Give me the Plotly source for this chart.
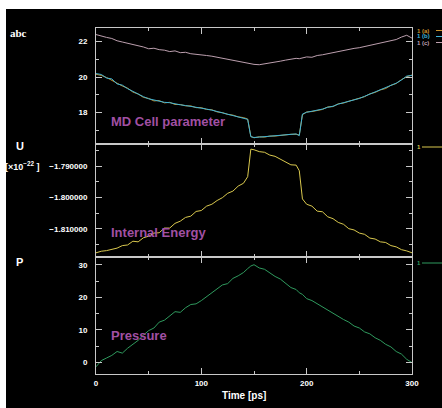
import plotly.graph_objects as go
from plotly.subplots import make_subplots

# ---------------- data ----------------
time_ps = [0, 5, 10, 15, 20, 25, 30, 35, 40, 45,
           50, 55, 60, 65, 70, 75, 80, 85, 90, 95,
           100, 105, 110, 115, 120, 125, 130, 135, 140, 144,
           147, 150, 155, 160, 165, 170, 175, 180, 185, 190,
           193, 196, 200, 205, 210, 215, 220, 225, 230, 235,
           240, 245, 250, 255, 260, 265, 270, 275, 280, 285,
           290, 295, 300]

cell_a = [20.16, 20.10, 19.98, 19.84, 19.66, 19.50, 19.38, 19.16, 19.05, 18.86,
          18.80, 18.66, 18.68, 18.55, 18.58, 18.46, 18.46, 18.38, 18.38, 18.28,
          18.28, 18.18, 18.16, 18.04, 18.00, 17.90, 17.86, 17.76, 17.72, 17.64,
          16.66, 16.58, 16.64, 16.62, 16.68, 16.68, 16.72, 16.72, 16.78, 16.78,
          16.74, 17.88, 18.04, 18.06, 18.14, 18.18, 18.32, 18.34, 18.50, 18.54,
          18.64, 18.72, 18.82, 18.90, 19.06, 19.14, 19.28, 19.36, 19.54, 19.64,
          19.86, 20.02, 20.12]

cell_b = [20.20, 20.15, 19.95, 19.90, 19.62, 19.55, 19.35, 19.20, 19.02, 18.90,
          18.78, 18.70, 18.66, 18.58, 18.56, 18.48, 18.44, 18.40, 18.36, 18.30,
          18.26, 18.20, 18.14, 18.06, 17.98, 17.92, 17.84, 17.78, 17.70, 17.62,
          16.64, 16.60, 16.62, 16.64, 16.66, 16.70, 16.70, 16.74, 16.76, 16.80,
          16.70, 17.92, 18.02, 18.08, 18.12, 18.20, 18.30, 18.36, 18.48, 18.56,
          18.62, 18.74, 18.80, 18.92, 19.04, 19.16, 19.26, 19.38, 19.52, 19.66,
          19.84, 20.06, 20.10]

cell_c = [22.40, 22.30, 22.24, 22.18, 22.05, 21.98, 21.92, 21.85, 21.76, 21.70,
          21.60, 21.63, 21.55, 21.52, 21.44, 21.48, 21.38, 21.40, 21.32, 21.30,
          21.28, 21.22, 21.18, 21.12, 21.08, 21.02, 20.95, 20.90, 20.85, 20.78,
          20.76, 20.72, 20.70, 20.74, 20.80, 20.84, 20.90, 20.96, 21.00, 21.06,
          21.04, 21.10, 21.14, 21.12, 21.22, 21.26, 21.32, 21.38, 21.48, 21.52,
          21.56, 21.62, 21.66, 21.72, 21.80, 21.84, 21.92, 22.00, 22.06, 22.12,
          22.26, 22.36, 22.20]

energy_u = [-1.8177, -1.8172, -1.8170, -1.8167, -1.8162, -1.8154, -1.8152, -1.8140, -1.8142, -1.8129,
            -1.8124, -1.8114, -1.8113, -1.8098, -1.8098, -1.8083, -1.8076, -1.8064, -1.8060, -1.8045,
            -1.8042, -1.8028, -1.8022, -1.8010, -1.8001, -1.7987, -1.7980, -1.7964, -1.7955, -1.7934,
            -1.7846, -1.7848, -1.7854, -1.7856, -1.7865, -1.7869, -1.7878, -1.7886, -1.7896, -1.7897,
            -1.7915, -1.8005, -1.8022, -1.8028, -1.8044, -1.8046, -1.8062, -1.8068, -1.8080, -1.8086,
            -1.8100, -1.8104, -1.8114, -1.8118, -1.8130, -1.8133, -1.8142, -1.8144, -1.8154, -1.8158,
            -1.8167, -1.8171, -1.8177]

pressure_p = [-1.3, 0.6, 1.4, 2.2, 3.4, 2.9, 4.4, 5.6, 6.8, 8.4,
              9.8, 10.6, 12.4, 13.0, 14.4, 15.6, 15.4, 16.8, 17.8, 18.0,
              19.0, 20.2, 21.4, 22.4, 23.8, 24.2, 25.8, 26.6, 27.6, 28.8,
              29.6, 30.0, 29.0, 28.6, 27.4, 26.4, 25.6, 24.2, 23.0, 22.4,
              21.4, 20.9, 19.6, 19.0, 18.0, 17.0, 16.0, 15.0, 14.2, 13.2,
              12.4, 11.2, 10.6, 9.4, 8.8, 7.6, 6.8, 5.6, 4.8, 3.4,
              2.6, 1.0, 0.0]

x_ticks = [0, 100, 200, 300]

# ---------------- layout constants ----------------
W, H = 442, 408
L, R, T, B = 96, 30, 28, 34
PW, PH = W - L - R, H - T - B


def px(x):
    return (x - L) / PW


def py(y):
    return (H - B - y) / PH


AX = "#c8c8c8"
C_A, C_B, C_C = "#c8922e", "#3fb3d6", "#bc9fae"
C_U, C_P = "#d9c84e", "#2f9a5e"
PURPLE = "#a150a3"
FONT = "Liberation Sans"

fig = make_subplots(rows=3, cols=1, shared_xaxes=True, vertical_spacing=0)

fig.add_trace(go.Scatter(x=time_ps, y=cell_c, mode="lines", line=dict(color=C_C, width=1)), row=1, col=1)
fig.add_trace(go.Scatter(x=time_ps, y=cell_a, mode="lines", line=dict(color=C_A, width=1)), row=1, col=1)
fig.add_trace(go.Scatter(x=time_ps, y=cell_b, mode="lines", line=dict(color=C_B, width=1)), row=1, col=1)
fig.add_trace(go.Scatter(x=time_ps, y=energy_u, mode="lines", line=dict(color=C_U, width=1)), row=2, col=1)
fig.add_trace(go.Scatter(x=time_ps, y=pressure_p, mode="lines", line=dict(color=C_P, width=1)), row=3, col=1)

tickfont = dict(family=FONT, size=8, color="white", weight="bold")
common = dict(showline=True, linecolor=AX, linewidth=1, mirror="ticks", ticks="inside",
              tickcolor=AX, tickwidth=1, ticklen=6, showgrid=False, zeroline=False,
              tickfont=tickfont, automargin=False)

for r in (1, 2, 3):
    fig.update_xaxes(range=[0, 300], tickvals=x_ticks,
                     minor=dict(dtick=50, tick0=0, ticks="inside", ticklen=3, tickcolor=AX),
                     showticklabels=(r == 3), ticklabelstandoff=1, row=r, col=1, **common)

d1 = py(143.5)
d2 = py(257)
fig.update_yaxes(domain=[d1, 1], range=[16.26, 22.77], dtick=2, tick0=0,
                 minor=dict(dtick=1, ticks="inside", ticklen=3, tickcolor=AX),
                 ticklabelstandoff=6, row=1, col=1, **common)
fig.update_yaxes(domain=[d2, d1], range=[-1.81904, -1.7828], dtick=0.01, tick0=0,
                 tickformat=".6f",
                 minor=dict(dtick=0.005, ticks="inside", ticklen=3, tickcolor=AX),
                 ticklabelstandoff=6, row=2, col=1, **common)
fig.update_yaxes(domain=[0, d2], range=[-3.5, 32.36], dtick=10, tick0=0,
                 minor=dict(dtick=5, ticks="inside", ticklen=3, tickcolor=AX),
                 ticklabelstandoff=6, row=3, col=1, **common)

shapes = [
    dict(type="rect", xref="paper", yref="paper", x0=px(6), x1=px(W + 5), y0=py(H + 5), y1=py(9),
         fillcolor="black", line=dict(width=0), layer="below"),
]
legend_rows = [(30.5, "1 (a)", C_A), (36.5, "1 (b)", C_B), (42.5, "1 (c)", C_C),
               (147, "1", C_U), (263, "1", C_P)]
annotations = []
for yy, txt, col in legend_rows:
    annotations.append(dict(x=px(415), y=py(yy), xref="paper", yref="paper", text=txt,
                            showarrow=False, xanchor="left", yanchor="middle",
                            font=dict(family=FONT, size=6, color=col, weight="bold")))
    x0 = 436 if "(" in txt else 422
    shapes.append(dict(type="line", xref="paper", yref="paper", x0=px(x0), x1=px(W + 2),
                       y0=py(yy), y1=py(yy), line=dict(color=col, width=1)))


def label(text, x, y, size=11, family=FONT, anchor="left", color="white"):
    annotations.append(dict(x=px(x), y=py(y), xref="paper", yref="paper", text=text,
                            showarrow=False, xanchor=anchor, yanchor="middle",
                            font=dict(family=family, size=size, color=color, weight="bold")))


label("abc", 8, 33, size=11, family="Liberation Serif")
label("U", 14, 146, size=11)
label("[×10<sup>−22</sup> ]", 41, 166, size=9, anchor="right")
label("P", 14, 262, size=11)
label("MD Cell parameter", 109, 121, size=13, color=PURPLE)
label("Internal Energy", 109, 232, size=13, color=PURPLE)
label("Pressure", 109, 335, size=13, color=PURPLE)
label("Time [ps]", 244, 396, size=10, anchor="center")

fig.update_layout(width=W, height=H, margin=dict(l=L, r=R, t=T, b=B),
                  paper_bgcolor="white", plot_bgcolor="black", showlegend=False,
                  shapes=shapes, annotations=annotations)

fig.write_html("out.html", config={"displayModeBar": False},
               post_script="document.body.style.margin='0';document.body.style.overflow='hidden';")
